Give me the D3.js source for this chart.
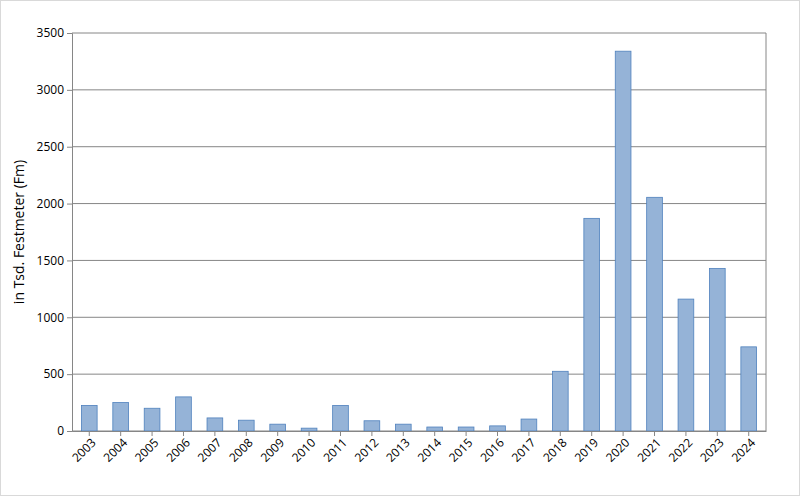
<!DOCTYPE html><html><head><meta charset="utf-8"><script src="https://cdn.jsdelivr.net/npm/d3@7"></script>
<style>body{margin:0;background:#fff}svg{display:block}</style></head><body><script>
const years=["2003","2004","2005","2006","2007","2008","2009","2010","2011","2012","2013","2014","2015","2016","2017","2018","2019","2020","2021","2022","2023","2024"];
const values=[225,250,200,300,115,95,60,25,225,90,60,35,35,45,105,525,1870,3340,2055,1160,1430,740];
const yTicks=[0,500,1000,1500,2000,2500,3000,3500];
const yTitle="in Tsd. Festmeter (Fm)";
const W=800,H=496,L=72,R=766,T=33,B=431;
const svg=d3.select("body").append("svg").attr("width",W).attr("height",H);
svg.append("rect").attr("x",0.5).attr("y",0.5).attr("width",W-1).attr("height",H-1).attr("fill","#fff").attr("stroke","#d9d9d9");
const x=d3.scaleBand().domain(years).range([L,R]).paddingInner(0.5).paddingOuter(0.3);
const y=d3.scaleLinear().domain([0,3500]).range([B,T]);
svg.append("g").selectAll("line").data(yTicks).join("line").attr("x1",L).attr("x2",R).attr("y1",d=>y(d)).attr("y2",d=>y(d)).attr("stroke","#868686");
svg.append("line").attr("x1",R).attr("x2",R).attr("y1",T).attr("y2",B).attr("stroke","#868686");
svg.append("g").selectAll("rect").data(values).join("rect").attr("x",(d,i)=>x(years[i])).attr("width",x.bandwidth()).attr("y",d=>y(d)).attr("height",d=>B-y(d)).attr("fill","#95b3d7").attr("stroke","#4f81bd").attr("stroke-width",0.8);
const ya=svg.append("g").attr("transform",`translate(${L},0)`).call(d3.axisLeft(y).tickValues(yTicks).tickSize(5).tickFormat(d3.format("d")));
ya.selectAll("text").attr("font-family","Open Sans, Liberation Sans, sans-serif").attr("font-size",12).attr("fill","#000");
ya.selectAll("line,path").attr("stroke","#868686");
const xa=svg.append("g").attr("transform",`translate(0,${B})`).call(d3.axisBottom(x).tickSize(5).tickSizeOuter(0));
xa.selectAll("line,path").attr("stroke","#868686");
xa.selectAll("text").attr("font-family","Open Sans, Liberation Sans, sans-serif").attr("font-size",12).attr("fill","#000").attr("text-anchor","end").attr("dx","-0.3em").attr("dy","0.5em").attr("transform","rotate(-45)");
svg.append("text").attr("transform",`translate(24,${(T+B)/2}) rotate(-90)`).attr("text-anchor","middle").attr("font-family","Open Sans, Liberation Sans, sans-serif").attr("font-size",14).text(yTitle);
</script></body></html>
